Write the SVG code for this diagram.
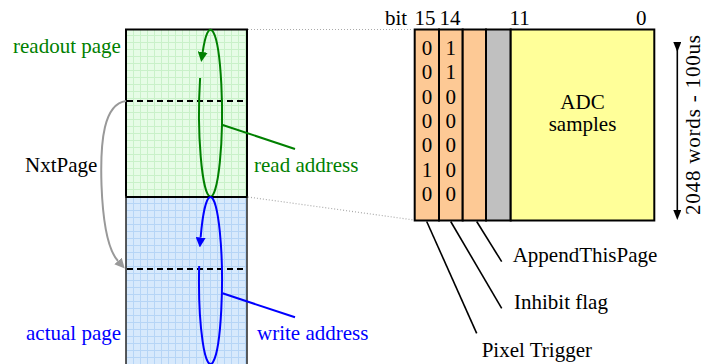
<svg xmlns="http://www.w3.org/2000/svg" width="703" height="364" viewBox="0 0 703 364">
<style>
  text { font-family: "Liberation Serif", "Times New Roman", serif; font-size: 21px; }
  .green { fill: #008000; }
  .blue { fill: #0000ff; }
  .blk { fill: #000; }
  .col { stroke: #000; stroke-width: 2; }
  .dash { stroke: #000; stroke-width: 2; stroke-dasharray: 6 4; fill: none; }
  .dot { stroke: #aaa; stroke-width: 1.2; stroke-dasharray: 1 2; fill: none; }
  .lead { stroke: #000; stroke-width: 1.6; fill: none; }
</style>
<defs>
  <pattern id="gridG" width="7" height="7" patternUnits="userSpaceOnUse">
    <rect width="7" height="7" fill="#e6fce6"/>
    <path d="M0 0.5 H7 M0.5 0 V7" stroke="#c9f1c9" stroke-width="1"/>
  </pattern>
  <pattern id="gridB" width="7" height="7" patternUnits="userSpaceOnUse">
    <rect width="7" height="7" fill="#d7e9fc"/>
    <path d="M0 0.5 H7 M0.5 0 V7" stroke="#b6d5f6" stroke-width="1"/>
  </pattern>
  <marker id="arrG" markerUnits="userSpaceOnUse" markerWidth="10" markerHeight="10" refX="0" refY="5" orient="auto">
    <path d="M0,0 L10,5 L0,10 z" fill="#008000"/>
  </marker>
  <marker id="arrB" markerUnits="userSpaceOnUse" markerWidth="10" markerHeight="10" refX="0" refY="5" orient="auto">
    <path d="M0,0 L10,5 L0,10 z" fill="#0000ff"/>
  </marker>
  <marker id="arrGray" markerUnits="userSpaceOnUse" markerWidth="10" markerHeight="10" refX="0" refY="5" orient="auto">
    <path d="M0,0 L10,5 L0,10 z" fill="#999"/>
  </marker>
  <marker id="arrK" markerUnits="userSpaceOnUse" markerWidth="10" markerHeight="8" refX="0" refY="4" orient="auto">
    <path d="M0,0 L10,4 L0,8 z" fill="#000"/>
  </marker>
</defs>

<g id="readout-page">
  <rect x="126" y="29.5" width="121" height="167.5" fill="url(#gridG)" stroke="#000" stroke-width="2"/>
  <line class="dash" x1="127" y1="101" x2="246" y2="101"/>
  <path d="M200.1,78 A11.5,83.5 0 1 0 202.7,52" stroke="#008000" stroke-width="2" fill="none" marker-end="url(#arrG)"/>
</g>

<g id="actual-page">
  <rect x="126" y="197" width="121" height="172" fill="url(#gridB)" stroke="#333" stroke-width="1.6"/>
  <line x1="126" y1="197" x2="247" y2="197" stroke="#000" stroke-width="2"/>
  <line class="dash" x1="127" y1="269" x2="246" y2="269"/>
  <path d="M199.17,266 A11.5,83.5 0 1 0 200.64,237.5" stroke="#0000ff" stroke-width="2" fill="none" marker-end="url(#arrB)"/>
</g>

<g id="register">
  <rect class="col" x="414.7" y="29.5" width="24.3" height="191" fill="#fdc995"/>
  <rect class="col" x="439" y="29.5" width="23.7" height="191" fill="#fdc995"/>
  <rect class="col" x="462.7" y="29.5" width="23.3" height="191" fill="#fdc995"/>
  <rect class="col" x="486" y="29.5" width="24.7" height="191" fill="#c0c0c0"/>
  <rect class="col" x="510.7" y="29.5" width="143.6" height="191" fill="#ffff99"/>
  <text class="blk" x="385" y="25">bit</text>
  <text class="blk" x="414.5" y="25">15</text>
  <text class="blk" x="439.5" y="25">14</text>
  <text class="blk" x="509.5" y="25">11</text>
  <text class="blk" x="636" y="25">0</text>
  <g text-anchor="middle">
    <text class="blk" x="426.9" y="55">0</text>
    <text class="blk" x="426.9" y="79.3">0</text>
    <text class="blk" x="426.9" y="103.7">0</text>
    <text class="blk" x="426.9" y="128">0</text>
    <text class="blk" x="426.9" y="152.3">0</text>
    <text class="blk" x="426.9" y="176.7">1</text>
    <text class="blk" x="426.9" y="201">0</text>
    <text class="blk" x="450.8" y="55">1</text>
    <text class="blk" x="450.8" y="79.3">1</text>
    <text class="blk" x="450.8" y="103.7">0</text>
    <text class="blk" x="450.8" y="128">0</text>
    <text class="blk" x="450.8" y="152.3">0</text>
    <text class="blk" x="450.8" y="176.7">0</text>
    <text class="blk" x="450.8" y="201">0</text>
    <text class="blk" x="582.5" y="108.5">ADC</text>
    <text class="blk" x="582.5" y="130.5">samples</text>
  </g>
  <text class="blk" transform="translate(699.5,215) rotate(-90)" textLength="180" lengthAdjust="spacing">2048 words - 100us</text>
</g>

<g id="connectors">
  <line class="dot" x1="248" y1="29.5" x2="414" y2="29.5"/>
  <line class="dot" x1="248" y1="197" x2="414" y2="220"/>
  <path d="M126,101 C104,104 100,140 101.5,185 C103,225 108,250 118,261" stroke="#999" stroke-width="2" fill="none" marker-end="url(#arrGray)"/>
  <line x1="222.7" y1="125" x2="295" y2="149" stroke="#008000" stroke-width="2"/>
  <line x1="222.5" y1="293.3" x2="295" y2="317.3" stroke="#0000ff" stroke-width="2"/>
  <line class="lead" x1="426.7" y1="221.5" x2="476.7" y2="333.3"/>
  <line class="lead" x1="450.7" y1="221.5" x2="501.7" y2="308.3"/>
  <line class="lead" x1="476.7" y1="221.5" x2="501.7" y2="261.7"/>
  <line x1="677.3" y1="42" x2="677.3" y2="210" stroke="#000" stroke-width="1.6" marker-start="url(#arrK)" marker-end="url(#arrK)"/>
</g>

<g id="labels-left">
  <text class="green" x="13" y="53.3">readout page</text>
  <text class="blk" x="25" y="172.3">NxtPage</text>
  <text class="blue" x="26" y="340">actual page</text>
  <text class="green" x="254" y="172">read address</text>
  <text class="blue" x="257" y="340">write address</text>
</g>

<g id="labels-bits">
  <text class="blk" x="512.7" y="261.7">AppendThisPage</text>
  <text class="blk" x="514" y="309">Inhibit flag</text>
  <text class="blk" x="481.7" y="356.7">Pixel Trigger</text>
</g>
</svg>
